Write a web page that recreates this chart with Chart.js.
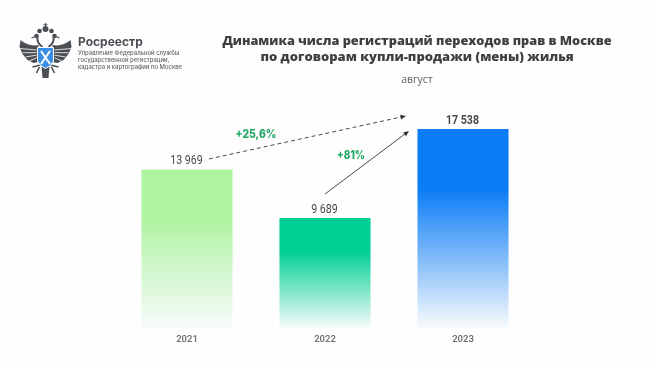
<!DOCTYPE html>
<html>
<head>
<meta charset="utf-8">
<style>
  html, body { margin: 0; padding: 0; background: #fefefe; }
  #wrap { width: 650px; height: 367px; position: relative; }
</style>
<script src="https://cdn.jsdelivr.net/npm/chart.js@4"></script>
</head>
<body>
<div id="wrap"><canvas id="chart" width="650" height="367"></canvas></div>
<script>
const years = ['2021', '2022', '2023'];
const values = [13969, 9689, 17538];
const valueLabels = ['13 969', '9 689', '17 538'];
const topColors = ['#aef3a0', '#00cf93', '#0a7cf6'];
const growthLabels = ['+25,6%', '+81%'];
const titleLines = ['Динамика числа регистраций переходов прав в Москве', 'по договорам купли-продажи (мены) жилья'];
const subtitle = 'август';
const logoLines = ['Управление Федеральной службы', 'государственной регистрации,', 'кадастра и картографии по Москве'];

function barGradient(context) {
  const area = context.chart.chartArea;
  if (!area) return topColors[context.dataIndex];
  const top = context.chart.scales.y.getPixelForValue(values[context.dataIndex]);
  const g = context.chart.ctx.createLinearGradient(0, top, 0, area.bottom);
  g.addColorStop(0, topColors[context.dataIndex]);
  g.addColorStop(0.3, topColors[context.dataIndex]);
  g.addColorStop(1, '#f8fbfc');
  return g;
}

function arrow(ctx, x1, y1, x2, y2, dashed) {
  const a = Math.atan2(y2 - y1, x2 - x1);
  ctx.save();
  ctx.strokeStyle = '#4a4a4a';
  ctx.fillStyle = '#333';
  ctx.lineWidth = 1;
  ctx.setLineDash(dashed ? [4, 3] : []);
  ctx.beginPath();
  ctx.moveTo(x1, y1);
  ctx.lineTo(x2 - 3 * Math.cos(a), y2 - 3 * Math.sin(a));
  ctx.stroke();
  ctx.setLineDash([]);
  ctx.beginPath();
  ctx.moveTo(x2, y2);
  ctx.lineTo(x2 - 6 * Math.cos(a - 0.4), y2 - 6 * Math.sin(a - 0.4));
  ctx.lineTo(x2 - 6 * Math.cos(a + 0.4), y2 - 6 * Math.sin(a + 0.4));
  ctx.fill();
  ctx.restore();
}

// герб рисуем простыми фигурами
function drawLogo(ctx) {
  const cx = 45.5;
  ctx.save();
  ctx.fillStyle = '#4b4f54';
  ctx.strokeStyle = '#4b4f54';
  for (const s of [-1, 1]) {
    // крыло сплошной формой
    ctx.beginPath();
    ctx.moveTo(cx + s * 7, 45);
    ctx.quadraticCurveTo(cx + s * 17, 47, cx + s * 25, 40);
    ctx.lineTo(cx + s * 26, 47);
    ctx.lineTo(cx + s * 23, 54);
    ctx.lineTo(cx + s * 18, 60);
    ctx.lineTo(cx + s * 12, 63);
    ctx.lineTo(cx + s * 7, 62);
    ctx.closePath();
    ctx.fill();
    // просветы между перьями
    ctx.save();
    ctx.strokeStyle = '#fefefe';
    ctx.lineWidth = 0.8;
    for (let i = 0; i < 4; i++) {
      ctx.beginPath();
      ctx.moveTo(cx + s * 9, 50 + i * 2.6);
      ctx.lineTo(cx + s * (26 - i * 3.2), 48.5 + i * 4.2);
      ctx.stroke();
    }
    ctx.restore();
    // шея и голова
    ctx.lineWidth = 2;
    ctx.beginPath();
    ctx.moveTo(cx + s * 3, 47);
    ctx.quadraticCurveTo(cx + s * 9, 43, cx + s * 8, 37);
    ctx.stroke();
    ctx.beginPath();
    ctx.arc(cx + s * 9, 36, 2.3, 0, Math.PI * 2);
    ctx.fill();
    ctx.lineWidth = 1.2;
    ctx.beginPath();
    ctx.moveTo(cx + s * 9, 36);
    ctx.lineTo(cx + s * 14, 38);
    ctx.stroke();
    // лапы
    ctx.lineWidth = 1.6;
    ctx.beginPath();
    ctx.moveTo(cx + s * 5, 65);
    ctx.lineTo(cx + s * 13, 67);
    ctx.moveTo(cx + s * 6, 67);
    ctx.lineTo(cx + s * 9, 73);
    ctx.stroke();
  }
  // короны
  for (const [x, y, r] of [[cx, 29, 3], [cx - 6, 31, 2.3], [cx + 6, 31, 2.3]]) {
    ctx.beginPath();
    ctx.arc(x, y, r, 0, Math.PI * 2);
    ctx.fill();
  }
  ctx.fillRect(cx - 0.6, 23, 1.2, 4);
  ctx.fillRect(cx - 2, 24.2, 4, 1);
  // хвост
  ctx.beginPath();
  ctx.moveTo(cx - 4, 66);
  ctx.lineTo(cx + 4, 66);
  ctx.lineTo(cx + 3, 78);
  ctx.lineTo(cx - 3, 78);
  ctx.fill();
  // щит
  ctx.fillStyle = '#3a8ee6';
  ctx.strokeStyle = '#fefefe';
  ctx.lineWidth = 1;
  ctx.beginPath();
  ctx.moveTo(cx - 8, 47.5);
  ctx.lineTo(cx + 8, 47.5);
  ctx.lineTo(cx + 8, 61);
  ctx.quadraticCurveTo(cx + 6, 66, cx, 68.5);
  ctx.quadraticCurveTo(cx - 6, 66, cx - 8, 61);
  ctx.closePath();
  ctx.fill();
  ctx.stroke();
  ctx.lineWidth = 2;
  ctx.beginPath();
  ctx.moveTo(cx - 4.5, 51);
  ctx.lineTo(cx + 4.5, 64);
  ctx.moveTo(cx + 4.5, 51);
  ctx.lineTo(cx - 4.5, 64);
  ctx.stroke();
  ctx.restore();
}

const overlayPlugin = {
  id: 'overlay',
  afterDraw(chart) {
    const ctx = chart.ctx;
    const bars = chart.getDatasetMeta(0).data;
    const yScale = chart.scales.y;
    const tops = values.map(v => yScale.getPixelForValue(v));

    ctx.save();
    ctx.textAlign = 'center';
    ctx.textBaseline = 'alphabetic';

    // заголовок
    ctx.fillStyle = '#3f3f3f';
    ctx.font = '800 13px "Open Sans"';
    ctx.fillText(titleLines[0], 417, 45, 389);
    ctx.fillText(titleLines[1], 417, 61);
    ctx.fillStyle = '#5f5f5f';
    ctx.font = '10.5px "Open Sans"';
    ctx.fillText(subtitle, 417, 82.5);

    // подписи значений
    ctx.fillStyle = '#4a4a4a';
    ctx.font = '12.5px Roboto';
    valueLabels.forEach((t, i) => {
      if (i === 2) ctx.font = '700 12.5px Roboto';
      ctx.fillText(t, bars[i].x - 0.5, tops[i] - 5, ctx.measureText(t).width * 0.85);
    });

    // проценты
    ctx.fillStyle = '#22a764';
    ctx.font = '800 11.5px Inter';
    ctx.fillText(growthLabels[0], bars[0].x + 69, tops[0] - 31, 41);
    ctx.fillText(growthLabels[1], bars[1].x + 26, tops[1] - 59, 28);
    ctx.restore();

    // стрелки
    arrow(ctx, bars[0].x + 22, tops[0] - 10.5, bars[2].x - 57, tops[2] - 13, true);
    arrow(ctx, bars[1].x, tops[1] - 24, bars[2].x - 54, tops[2] + 2, false);

    // логотип
    drawLogo(ctx);
    ctx.save();
    ctx.fillStyle = '#4b4f54';
    ctx.font = '700 12px Inter';
    ctx.fillText('Росреестр', 78, 45.5);
    ctx.font = '500 5.9px Inter';
    ctx.fillStyle = '#63676b';
    logoLines.forEach((t, i) => ctx.fillText(t, 78, 55 + i * 7));
    ctx.restore();
  }
};

new Chart(document.getElementById('chart').getContext('2d'), {
  type: 'bar',
  data: {
    labels: years,
    datasets: [{
      data: values,
      backgroundColor: barGradient,
      borderWidth: 0,
      barPercentage: 0.66,
      categoryPercentage: 1
    }]
  },
  options: {
    responsive: false,
    animation: false,
    layout: { padding: { left: 118, right: 118, top: 101, bottom: 0 } },
    plugins: { legend: { display: false }, tooltip: { enabled: false } },
    scales: {
      x: {
        grid: { display: false, drawTicks: false },
        border: { display: false },
        afterFit(axis) { axis.height = 39; },
        ticks: { color: '#707070', padding: 6, font: { family: 'Roboto', size: 9.5, weight: '600' } }
      },
      y: { display: false, min: 0, max: 20000 }
    }
  },
  plugins: [overlayPlugin]
});
</script>
</body>
</html>
